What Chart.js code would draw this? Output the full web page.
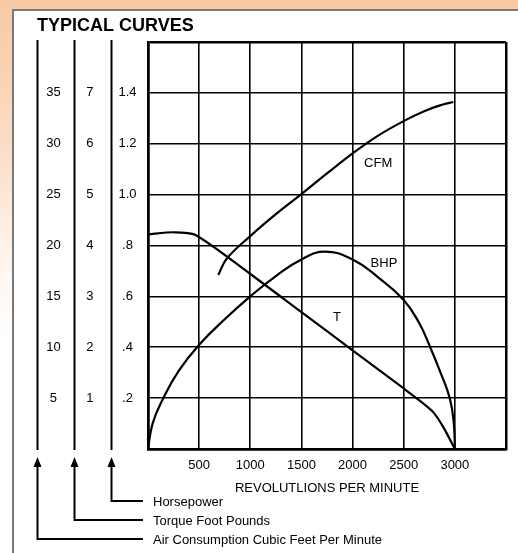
<!DOCTYPE html>
<html>
<head>
<meta charset="utf-8">
<script src="https://cdn.jsdelivr.net/npm/chart.js@4.4.1/dist/chart.umd.min.js"></script>
<style>
  html, body { margin: 0; padding: 0; }
  body {
    width: 518px; height: 553px; overflow: hidden; position: relative;
    background: linear-gradient(to bottom, #f8c9a4 0px, #fbdcc3 140px, #fff4ec 260px, #ffffff 340px);
  }
  .panel {
    position: absolute; left: 12px; top: 9px; width: 600px; height: 600px;
    background: #fff; border-left: 2px solid #7a7a7a; border-top: 2px solid #7a7a7a;
  }
  canvas { position: absolute; left: 0; top: 0; }
</style>
</head>
<body>
<div class="panel"></div>
<canvas id="curveChart" width="518" height="553"></canvas>
<script>
// values
const rpmTicks = [0, 500, 1000, 1500, 2000, 2500, 3000, 3500];

const bhpRpm = [0, 45, 150, 300, 500, 750, 1000, 1250, 1500, 1730, 2000, 2250, 2500, 2650, 2760, 2860, 2950, 2990, 3000];
const bhpValues = [0, 0.1, 0.2, 0.307, 0.41, 0.51, 0.6, 0.68, 0.745, 0.776, 0.745, 0.675, 0.586, 0.496, 0.399, 0.3, 0.2, 0.1, 0];

const torqueRpm = [0, 250, 460, 1000, 1500, 2000, 2500, 2650, 2790, 2890, 3000];
const torqueValues = [4.22, 4.26, 4.21, 3.44, 2.69, 1.94, 1.19, 0.96, 0.72, 0.42, 0];

const cfmRpm = [687, 769, 997, 1250, 1506, 1750, 2007, 2250, 2503, 2700, 2855, 2985];
const cfmValues = [17.1, 18.7, 20.9, 23.08, 25.1, 27.08, 29.1, 30.8, 32.25, 33.2, 33.77, 34.1];

const axisNames = ['Horsepower', 'Torque Foot Pounds', 'Air Consumption Cubic Feet Per Minute'];
const curveNames = ['CFM', 'BHP', 'T'];

const toPoints = (xs, ys) => xs.map((x, i) => ({ x, y: ys[i] }));

const font = '"Liberation Sans", Arial, Helvetica, sans-serif';
Chart.defaults.font.family = font;
Chart.defaults.color = '#000';

const curveStyle = {
  borderColor: '#000',
  borderWidth: 2.2,
  pointRadius: 0,
  fill: false,
  showLine: true,
};

const edgeWidth = (ctx) => {
  const n = ctx.scale.ticks.length - 1;
  return ctx.index === 0 || ctx.index === n ? 2.5 : 1.6;
};

const sideAxis = (min, max, step, weight, pad, fmt) => ({
  type: 'linear',
  position: 'left',
  min,
  max,
  weight,
  grid: { display: false, drawTicks: false },
  border: { display: false },
  ticks: {
    stepSize: step,
    padding: pad,
    crossAlign: 'center',
    font: { size: 13 },
    callback: (v) => (v <= min || v >= max ? '' : fmt(v)),
  },
  afterFit: (scale) => { scale.width = 37; },
});

const sheetDecor = {
  id: 'sheetDecor',
  afterDraw(chart) {
    const { ctx, chartArea, scales } = chart;
    const stems = [scales.y.left, scales.yT.left, scales.yC.left];
    ctx.save();
    ctx.strokeStyle = '#000';
    ctx.fillStyle = '#000';
    ctx.lineWidth = 2;

    stems.forEach((sx, i) => {
      const x = Math.round(sx) + 0.5;
      const rowY = chartArea.bottom + 52 + i * 19;
      // axis line
      ctx.beginPath();
      ctx.moveTo(x, chartArea.top - 2);
      ctx.lineTo(x, chartArea.bottom + 1);
      ctx.stroke();
      // arrow and leader
      const tip = chartArea.bottom + 8;
      ctx.beginPath();
      ctx.moveTo(x, tip);
      ctx.lineTo(x - 4, tip + 10);
      ctx.lineTo(x + 4, tip + 10);
      ctx.closePath();
      ctx.fill();
      ctx.beginPath();
      ctx.moveTo(x, tip + 9);
      ctx.lineTo(x, rowY);
      ctx.lineTo(chartArea.left - 5, rowY);
      ctx.stroke();
      ctx.font = '13px ' + font;
      ctx.textBaseline = 'middle';
      ctx.textAlign = 'left';
      ctx.fillText(axisNames[i], chartArea.left + 5, rowY + 1);
    });

    // curve names beside their lines
    const xs = scales.x, ys = scales.y;
    const spots = [[2250, 1.124], [2307, 0.731], [1848, 0.519]];
    ctx.font = '13px ' + font;
    ctx.textAlign = 'center';
    ctx.textBaseline = 'middle';
    curveNames.forEach((name, i) => {
      ctx.fillText(name, xs.getPixelForValue(spots[i][0]), ys.getPixelForValue(spots[i][1]));
    });
    ctx.restore();
  },
};

const chartCtx = document.getElementById('curveChart').getContext('2d');

const curveChart = new Chart(chartCtx, {
  type: 'scatter',
  data: {
    datasets: [
      { label: 'BHP', data: toPoints(bhpRpm, bhpValues), yAxisID: 'y', tension: 0.45, ...curveStyle },
      { label: 'T', data: toPoints(torqueRpm, torqueValues), yAxisID: 'yT', tension: 0.25, ...curveStyle },
      { label: 'CFM', data: toPoints(cfmRpm, cfmValues), yAxisID: 'yC', tension: 0.4, ...curveStyle },
    ],
  },
  options: {
    responsive: false,
    animation: false,
    devicePixelRatio: 1,
    layout: { padding: { left: 37, right: 12, top: 0, bottom: 0 } },
    plugins: {
      legend: { display: false },
      tooltip: { enabled: false },
      title: {
        display: true,
        text: 'TYPICAL CURVES',
        align: 'start',
        color: '#000',
        font: { size: 18, weight: 'bold' },
        padding: { top: 15.7, bottom: 4.7 },
      },
    },
    scales: {
      x: {
        type: 'linear',
        min: 0,
        max: 3500,
        afterBuildTicks: (scale) => { scale.ticks = rpmTicks.map((v) => ({ value: v })); },
        grid: { color: '#000', lineWidth: edgeWidth, drawTicks: false },
        border: { display: true, color: '#000', width: 2.5 },
        ticks: {
          padding: 9,
          maxRotation: 0,
          font: { size: 13 },
          callback: (v) => (v === 0 || v === 3500 ? '' : String(v)),
        },
        title: {
          display: true,
          text: 'REVOLUTLIONS PER MINUTE',
          font: { size: 13 },
          padding: { top: 4, bottom: 57 },
        },
        afterFit: (scale) => { scale.height = 104; },
      },
      y: {
        type: 'linear',
        position: 'left',
        min: 0,
        max: 1.6,
        weight: 0,
        grid: { color: '#000', lineWidth: edgeWidth, drawTicks: false },
        border: { display: true, color: '#000', width: 2.5 },
        ticks: {
          stepSize: 0.2,
          padding: 11.5,
          crossAlign: 'center',
          font: { size: 13 },
          callback: (v) => {
            if (v <= 0 || v >= 1.59) return '';
            const s = v.toFixed(1);
            return v < 1 ? s.replace(/^0/, '') : s;
          },
        },
        afterFit: (scale) => { scale.width = 37; },
      },
      yT: sideAxis(0, 8, 1, 1, 17.4, (v) => String(v)),
      yC: sideAxis(0, 40, 5, 2, 13.3, (v) => String(v)),
    },
  },
  plugins: [sheetDecor],
});
</script>
</body>
</html>
